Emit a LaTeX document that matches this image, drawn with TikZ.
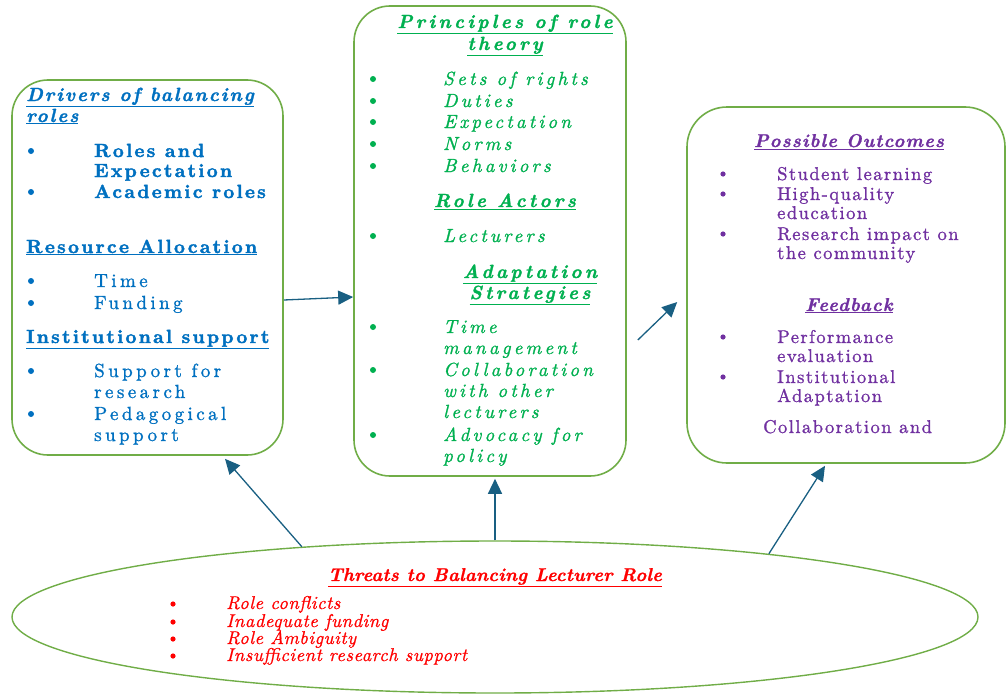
\documentclass[tikz,border=0pt]{standalone}
\usepackage{fontspec}
\usepackage{xcolor}
\usetikzlibrary{arrows.meta,calc,positioning,shapes.geometric}

\newfontfamily\leftfont{lmroman10}[Extension=.otf,
    UprightFont=*-regular, BoldFont=*-bold,
    ItalicFont=*-italic, BoldItalicFont=*-bolditalic,
    UprightFeatures={LetterSpace=18, FakeBold=1.2}, BoldFeatures={LetterSpace=12, FakeBold=2},
    BoldItalicFeatures={LetterSpace=10, FakeBold=1.5}]
\newfontfamily\midfont{lmroman10}[Extension=.otf,
    UprightFont=*-regular, BoldFont=*-bold,
    ItalicFont=*-italic, BoldItalicFont=*-bolditalic,
    ItalicFeatures={LetterSpace=17, FakeBold=1.2}, BoldItalicFeatures={LetterSpace=17, FakeBold=1.5}]
\newfontfamily\outfont{lmroman10}[Extension=.otf,
    UprightFont=*-regular, BoldFont=*-bold,
    ItalicFont=*-italic, BoldItalicFont=*-bolditalic,
    UprightFeatures={LetterSpace=8, FakeBold=1.2}, BoldItalicFeatures={LetterSpace=6, FakeBold=1.2}]
\newfontfamily\threatfont{lmroman10}[Extension=.otf,
    UprightFont=*-regular, BoldFont=*-bold,
    ItalicFont=*-italic, BoldItalicFont=*-bolditalic,
    ItalicFeatures={LetterSpace=3, FakeBold=0.8}, BoldItalicFeatures={LetterSpace=1, FakeBold=1}]

\definecolor{boxgreen}{RGB}{112,173,71}
\definecolor{arrowblue}{RGB}{25,95,130}
\definecolor{drvblue}{RGB}{0,112,192}
\definecolor{thgreen}{RGB}{0,176,80}
\definecolor{outpurple}{RGB}{112,48,160}
\definecolor{threatred}{RGB}{255,0,0}

\tikzset{
    frame/.style={draw=boxgreen, line width=1.6pt, rounded corners=36pt, inner sep=0pt},
    flow/.style={draw=arrowblue, line width=1.3pt, -{Triangle[length=15pt,width=14pt]}},
    line/.style={anchor=base west, inner sep=0pt},
    title/.style={anchor=base, inner sep=0pt}
}

\begin{document}
\begin{tikzpicture}[x=1pt,y=-1pt]
    \useasboundingbox (0,0) rectangle (1008,693);

    % Draw boxes and ellipse.
    \node[frame, minimum width=271pt, minimum height=375pt] (drivers) at (147.5,267.5) {};
    \node[frame, minimum width=272pt, minimum height=470pt] (theory) at (490,241) {};
    \node[frame, minimum width=318pt, minimum height=356pt, rounded corners=40pt] (outcomes) at (846,285) {};
    \node[ellipse, draw=boxgreen, line width=1.4pt, minimum width=966pt, minimum height=152pt,
        inner sep=0pt] (threats) at (495,617) {};

    % Drivers of balancing roles.
    \begin{scope}[color=drvblue, font=\leftfont\fontsize{19}{21}\selectfont]
        \node[line] (drvh1) at (26,101) {\bfseries\itshape\underline{Drivers of balancing}};
        \node[line] (drvh2) at (26,122) {\bfseries\itshape\underline{roles}};
        \foreach \t/\y [count=\i] in {Roles and/157, Expectation/177, Academic roles/198}
            \node[line] (drva\i) at (94,\y) {\bfseries\t};
        \foreach \y in {157,198}
            \fill[drvblue] (31,\y-6) circle [radius=3pt];

        \node[line] (drvh3) at (26,253) {\bfseries\underline{Resource Allocation}};
        \foreach \t/\y [count=\i] in {Time/287, Funding/309}
            \node[line] (drvb\i) at (94,\y) {\t};
        \foreach \y in {287,309}
            \fill[drvblue] (31,\y-6) circle [radius=3pt];

        \node[line] (drvh4) at (26,343) {\bfseries\underline{Institutional support}};
        \foreach \t/\y [count=\i] in {Support for/377, research/398, Pedagogical/420, support/441}
            \node[line] (drvc\i) at (94,\y) {\t};
        \foreach \y in {377,420}
            \fill[drvblue] (31,\y-6) circle [radius=3pt];
    \end{scope}

    % Principles of role theory.
    \begin{scope}[color=thgreen, font=\midfont\fontsize{19}{21}\selectfont\itshape]
        \node[title] (thh1) at (505,28) {\bfseries\underline{Principles of role}};
        \node[title] (thh2) at (505,50) {\bfseries\underline{theory}};
        \foreach \t/\y [count=\i] in {Sets of rights/85, Duties/107, Expectation/128, Norms/150, Behaviors/172}
            \node[line] (tha\i) at (443,\y) {\t};
        \foreach \y in {85,107,128,150,172}
            \fill[thgreen] (373,\y-6) circle [radius=3pt];

        \node[title] (thh3) at (505,207) {\bfseries\underline{Role Actors}};
        \node[line] (thb1) at (443,242) {Lecturers};
        \fill[thgreen] (373,236) circle [radius=3pt];

        \node[title] (thh4) at (530,278) {\bfseries\underline{Adaptation}};
        \node[title] (thh5) at (530,299) {\bfseries\underline{Strategies}};
        \foreach \t/\y [count=\i] in {Time/333, management/354, Collaboration/376, with other/397,
                lecturers/418, Advocacy for/441, policy/462}
            \node[line] (thc\i) at (443,\y) {\t};
        \foreach \y in {333,376,441}
            \fill[thgreen] (373,\y-6) circle [radius=3pt];
    \end{scope}

    % Possible outcomes and feedback.
    \begin{scope}[color=outpurple, font=\outfont\fontsize{18.5}{20}\selectfont]
        \node[title] (outh1) at (849,147) {\bfseries\itshape\underline{Possible Outcomes}};
        \foreach \t/\y [count=\i] in {Student learning/180, High-quality/200, education/219,
                Research impact on/240, the community/259}
            \node[line] (outa\i) at (777,\y) {\t};
        \foreach \y in {180,200,240}
            \fill[outpurple] (723,\y-6) circle [radius=2.6pt];

        \node[title] (outh2) at (849,311) {\bfseries\itshape\underline{Feedback}};
        \foreach \t/\y [count=\i] in {Performance/343, evaluation/362, Institutional/383, Adaptation/402}
            \node[line] (outb\i) at (777,\y) {\t};
        \foreach \y in {343,383}
            \fill[outpurple] (723,\y-6) circle [radius=2.6pt];
        \node[line] (outc1) at (763,433) {Collaboration and};
    \end{scope}

    % Threats to balancing lecturer role.
    \begin{scope}[color=threatred, font=\threatfont\fontsize{18.5}{17.5}\selectfont\itshape]
        \node[title] (thrh) at (495,581) {\bfseries\underline{Threats to Balancing Lecturer Role}};
        \foreach \t/\y [count=\i] in {Role conflicts/609, Inadequate funding/627, Role Ambiguity/644,
                Insufficient research support/661}
            \node[line] (thra\i) at (226,\y) {\t};
        \foreach \y in {609,627,644,661}
            \fill[threatred] (173,\y-5) circle [radius=2.6pt];
    \end{scope}

    % Draw arrows.
    \draw[flow] ($(drivers.east)+(0,32.5)$) -- ($(theory.west)+(0,56)$);
    \draw[flow] ($(theory.east)+(11,99)$) -- ($(outcomes.west)+(-9,17)$);
    \draw[flow] (threats.160.5) -- ($(drivers.south)+(77.5,3)$);
    \draw[flow] (threats.north) -- ($(theory.south)+(5,2)$);
    \draw[flow] (threats.13.3) -- ($(outcomes.south)+(-21,2)$);
\end{tikzpicture}
\end{document}
